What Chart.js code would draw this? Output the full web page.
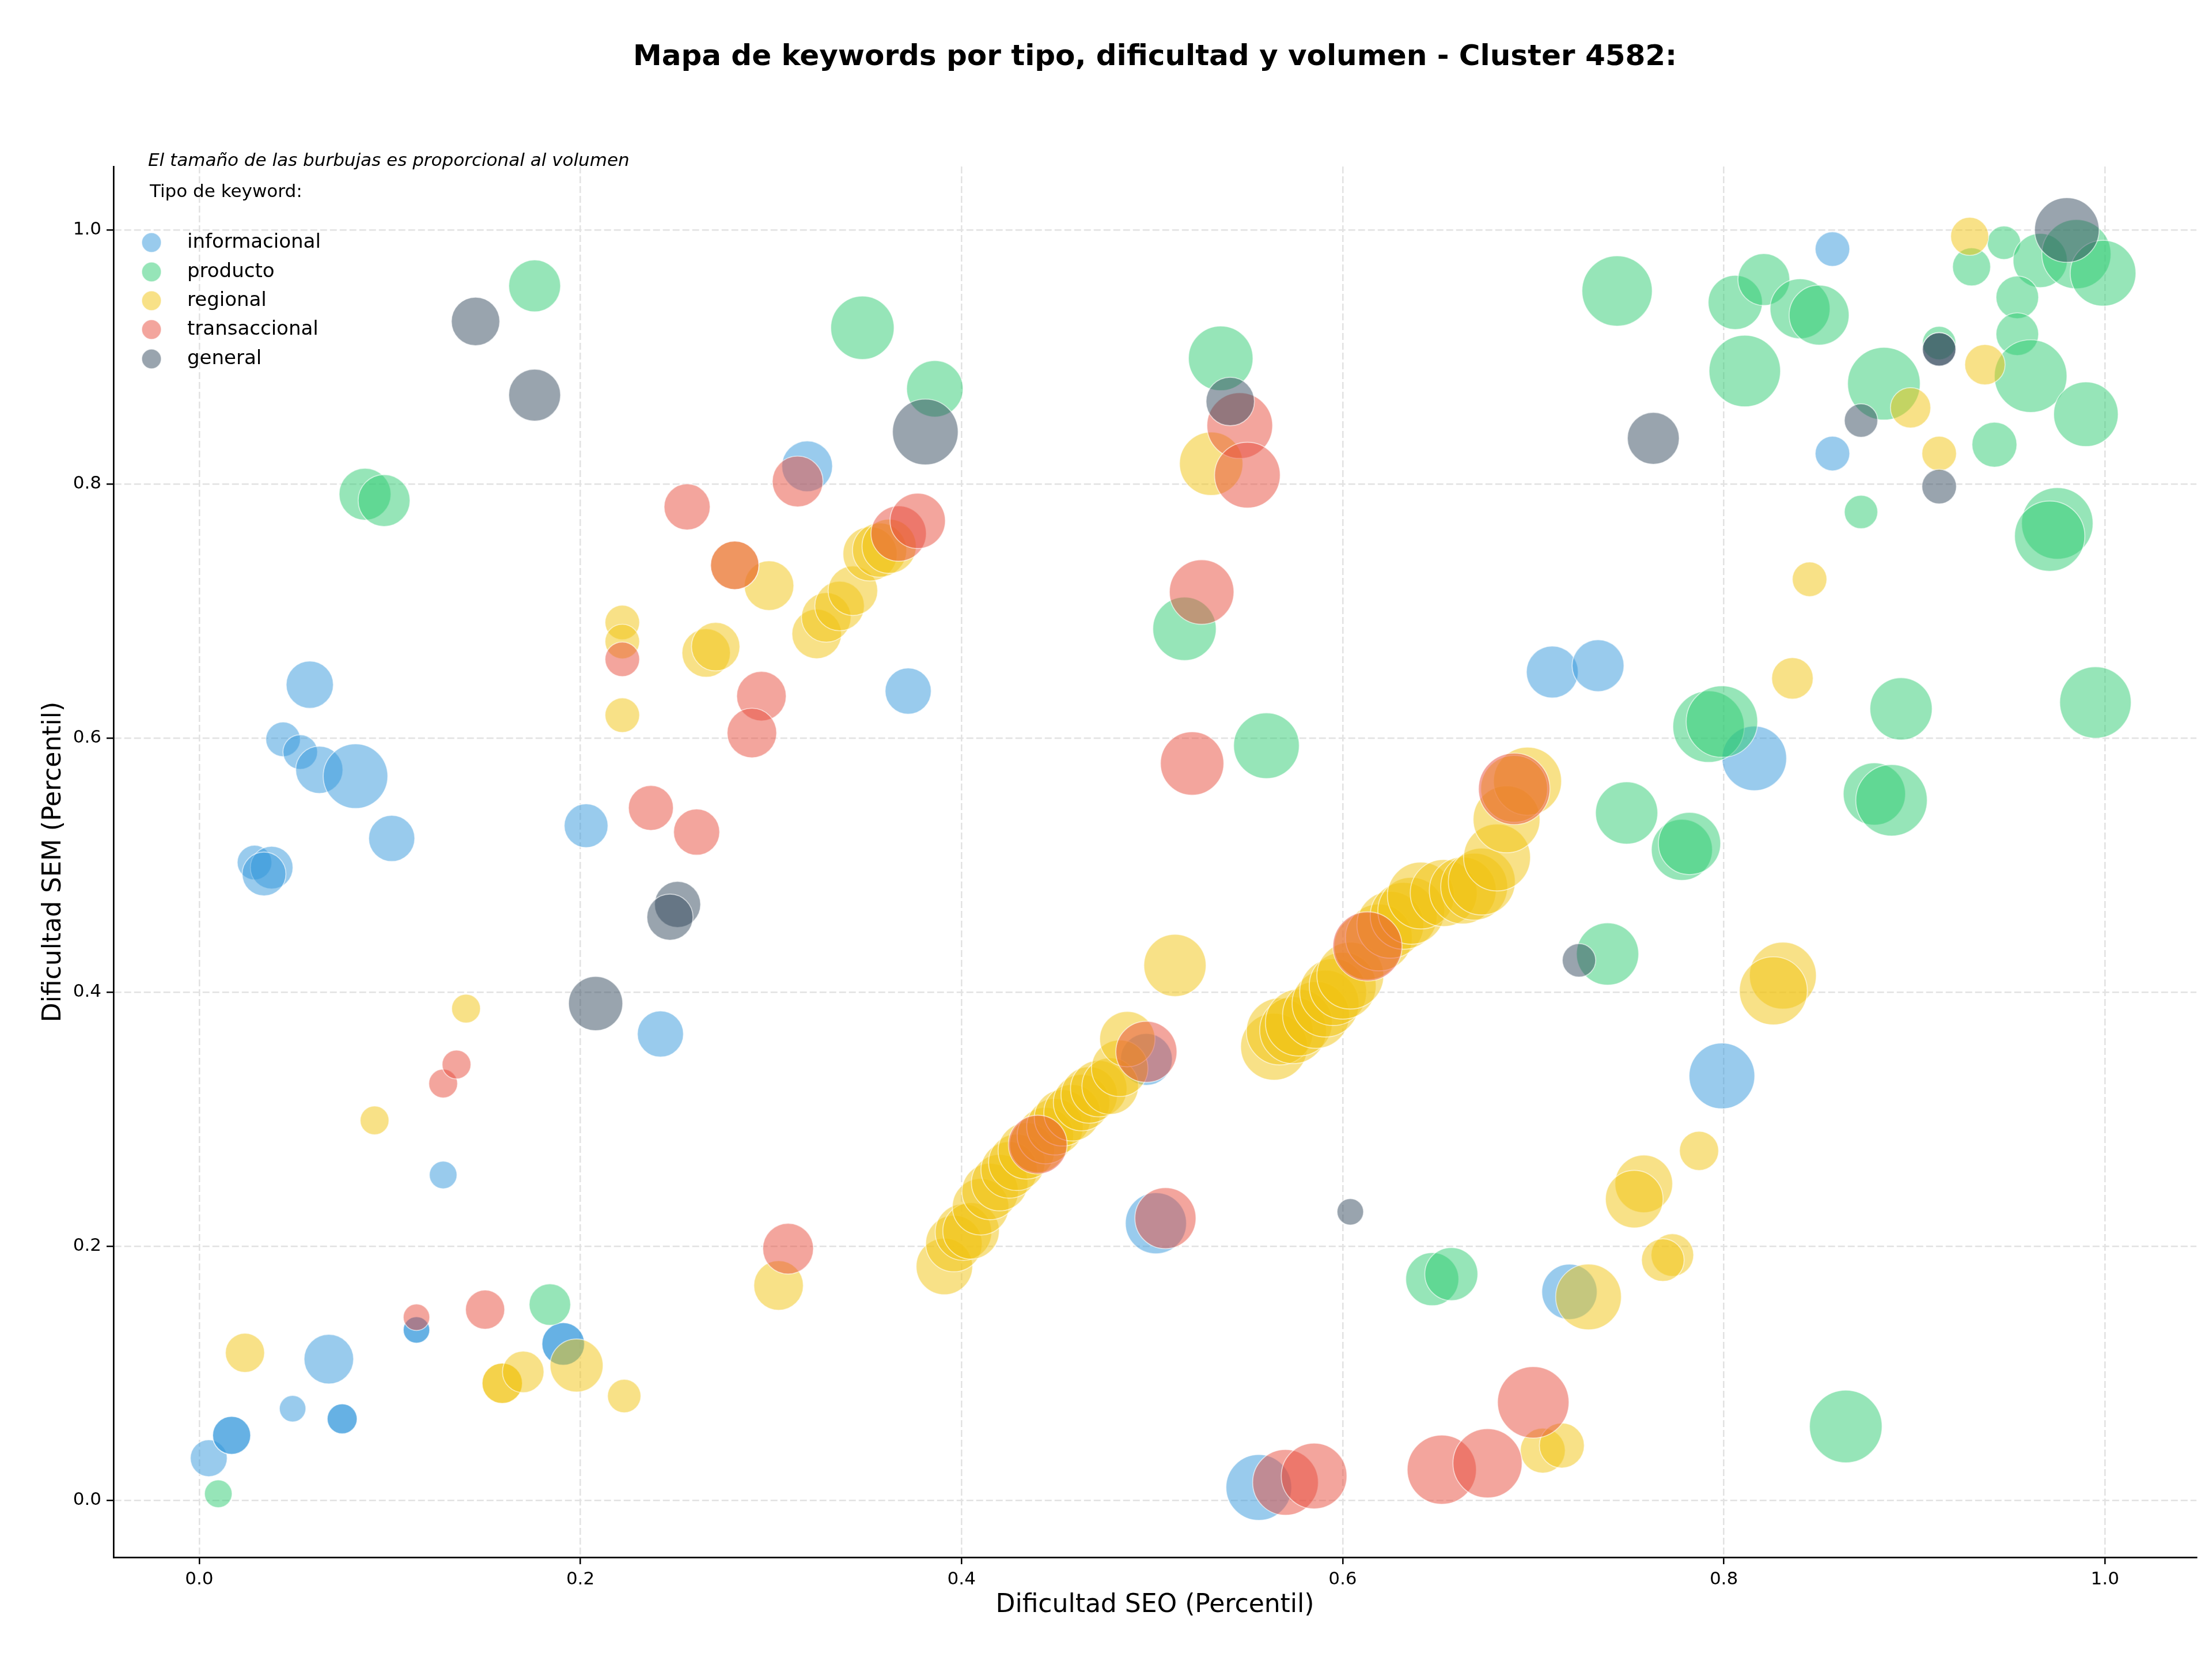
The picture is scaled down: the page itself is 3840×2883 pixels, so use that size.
<!DOCTYPE html>
<html>
<head>
<meta charset="utf-8">
<title>Mapa de keywords - Cluster 4582</title>
<script src="https://cdn.jsdelivr.net/npm/chart.js@4.4.0/dist/chart.umd.min.js"></script>
<style>
  html, body { margin: 0; padding: 0; background: #ffffff; }
  #wrap { width: 3840px; height: 2883px; }
</style>
</head>
<body>
<div id="wrap"><canvas id="bubbleChart" width="3840" height="2883"></canvas></div>
<script>
// ===== DATA (dificultad SEO, dificultad SEM, volumen) =====
const tipos = ['informacional', 'producto', 'regional', 'transaccional', 'general'];

const infoSeo = [0.857, 0.857, 0.319, 0.058, 0.044, 0.053, 0.063, 0.082, 0.101, 0.029, 0.038, 0.034, 0.372, 0.203, 0.242, 0.710, 0.734, 0.816, 0.799, 0.128, 0.502, 0.719, 0.556, 0.068, 0.005, 0.017, 0.017, 0.049, 0.075, 0.075, 0.114, 0.114, 0.191, 0.191, 0.497];
const infoSem = [0.985, 0.824, 0.814, 0.642, 0.599, 0.589, 0.575, 0.570, 0.521, 0.502, 0.498, 0.493, 0.637, 0.531, 0.367, 0.652, 0.657, 0.584, 0.334, 0.256, 0.218, 0.164, 0.010, 0.111, 0.033, 0.051, 0.051, 0.072, 0.064, 0.064, 0.134, 0.134, 0.123, 0.123, 0.347];
const infoVol = [225, 225, 484, 420, 225, 225, 420, 784, 400, 225, 342, 361, 400, 361, 400, 506, 506, 784, 812, 144, 702, 576, 812, 462, 256, 272, 272, 132, 169, 169, 132, 132, 342, 342, 506];

const prodSeo = [0.176, 0.087, 0.097, 0.348, 0.386, 0.536, 0.517, 0.560, 0.744, 0.806, 0.821, 0.840, 0.850, 0.811, 0.884, 0.913, 0.930, 0.947, 0.966, 0.985, 0.999, 0.954, 0.954, 0.961, 0.990, 0.942, 0.872, 0.975, 0.971, 0.792, 0.799, 0.893, 0.995, 0.879, 0.888, 0.749, 0.778, 0.782, 0.739, 0.647, 0.657, 0.184, 0.864, 0.010];
const prodSem = [0.956, 0.792, 0.787, 0.923, 0.875, 0.899, 0.686, 0.594, 0.952, 0.943, 0.961, 0.938, 0.933, 0.889, 0.879, 0.911, 0.971, 0.990, 0.976, 0.981, 0.966, 0.947, 0.918, 0.885, 0.855, 0.831, 0.778, 0.769, 0.759, 0.609, 0.613, 0.623, 0.628, 0.556, 0.551, 0.541, 0.512, 0.517, 0.430, 0.174, 0.178, 0.154, 0.058, 0.005];
const prodVol = [506, 506, 506, 756, 600, 784, 756, 812, 930, 552, 506, 676, 676, 961, 992, 210, 272, 210, 552, 900, 812, 342, 342, 992, 784, 380, 210, 961, 930, 961, 961, 729, 961, 729, 961, 729, 702, 729, 729, 529, 529, 324, 992, 144];

const regSeo = [0.024, 0.092, 0.140, 0.159, 0.159, 0.170, 0.198, 0.223, 0.304, 0.222, 0.222, 0.222, 0.266, 0.271, 0.299, 0.281, 0.324, 0.329, 0.336, 0.343, 0.352, 0.357, 0.362, 0.531, 0.512,
  0.391, 0.396, 0.401, 0.405, 0.410, 0.415, 0.420, 0.425, 0.429, 0.434, 0.440, 0.444, 0.449, 0.453, 0.458, 0.463, 0.467, 0.472, 0.478, 0.483, 0.487,
  0.564, 0.567, 0.574, 0.577, 0.586, 0.591, 0.595, 0.600, 0.604, 0.613, 0.619, 0.625, 0.632, 0.636, 0.641, 0.653, 0.663, 0.669, 0.673, 0.681, 0.686, 0.697, 0.690,
  0.836, 0.831, 0.826, 0.787, 0.758, 0.753, 0.773, 0.768, 0.729, 0.705, 0.715, 0.929, 0.937, 0.898, 0.913, 0.845];
const regSem = [0.116, 0.299, 0.387, 0.092, 0.092, 0.101, 0.106, 0.082, 0.169, 0.691, 0.676, 0.618, 0.667, 0.672, 0.720, 0.736, 0.682, 0.695, 0.704, 0.716, 0.745, 0.748, 0.751, 0.816, 0.421,
  0.184, 0.202, 0.211, 0.212, 0.231, 0.243, 0.250, 0.260, 0.266, 0.275, 0.280, 0.287, 0.294, 0.301, 0.305, 0.313, 0.319, 0.324, 0.326, 0.340, 0.363,
  0.357, 0.369, 0.370, 0.376, 0.382, 0.391, 0.400, 0.405, 0.413, 0.436, 0.443, 0.453, 0.460, 0.464, 0.476, 0.478, 0.480, 0.483, 0.487, 0.506, 0.536, 0.566, 0.560,
  0.647, 0.413, 0.401, 0.275, 0.249, 0.237, 0.193, 0.189, 0.160, 0.039, 0.043, 0.995, 0.894, 0.860, 0.824, 0.725];
const regVol = [289, 156, 156, 306, 306, 324, 529, 210, 462, 225, 225, 225, 441, 441, 462, 441, 462, 462, 462, 462, 552, 552, 552, 756, 729,
  600, 600, 600, 600, 600, 600, 600, 600, 600, 600, 600, 600, 600, 600, 600, 600, 600, 600, 600, 600, 576,
  841, 841, 841, 841, 841, 841, 841, 841, 841, 841, 841, 841, 841, 841, 841, 841, 841, 841, 841, 841, 841, 870, 841,
  324, 841, 870, 289, 625, 625, 342, 342, 812, 380, 380, 272, 306, 306, 225, 225];

const tranSeo = [0.128, 0.135, 0.114, 0.150, 0.309, 0.237, 0.261, 0.295, 0.290, 0.222, 0.281, 0.256, 0.314, 0.367, 0.377, 0.546, 0.550, 0.526, 0.521, 0.440, 0.497, 0.507, 0.613, 0.690, 0.570, 0.585, 0.652, 0.676, 0.700];
const tranSem = [0.328, 0.343, 0.144, 0.150, 0.198, 0.545, 0.526, 0.633, 0.604, 0.662, 0.736, 0.782, 0.802, 0.761, 0.771, 0.846, 0.807, 0.715, 0.580, 0.280, 0.353, 0.222, 0.436, 0.560, 0.014, 0.019, 0.024, 0.029, 0.077];
const tranVol = [156, 156, 132, 289, 484, 380, 400, 462, 462, 225, 441, 400, 484, 576, 576, 812, 812, 784, 756, 650, 702, 702, 900, 961, 812, 812, 900, 900, 961];

const genSeo = [0.145, 0.176, 0.381, 0.541, 0.251, 0.247, 0.208, 0.604, 0.724, 0.763, 0.872, 0.913, 0.913, 0.913, 0.980];
const genSem = [0.928, 0.870, 0.841, 0.865, 0.469, 0.459, 0.391, 0.227, 0.425, 0.836, 0.850, 0.906, 0.906, 0.798, 1.000];
const genVol = [441, 506, 812, 441, 400, 400, 552, 132, 210, 506, 210, 210, 210, 225, 784];

const xTicks = [0.0, 0.2, 0.4, 0.6, 0.8, 1.0];
const yTicks = [0.0, 0.2, 0.4, 0.6, 0.8, 1.0];

// ===== STYLE =====
const FONT = '"DejaVu Sans", Verdana, sans-serif';
const BUBBLE_SCALE = 2;   // radius in px = BUBBLE_SCALE * sqrt(volumen)
const colors = {
    informacional: 'rgba(52, 152, 219, 0.5)',
    producto: 'rgba(46, 204, 113, 0.5)',
    regional: 'rgba(241, 196, 15, 0.5)',
    transaccional: 'rgba(231, 76, 60, 0.5)',
    general: 'rgba(52, 73, 94, 0.5)'
};

function toPoints(seo, sem, vol) {
    return seo.map((x, i) => ({ x: x, y: sem[i], r: BUBBLE_SCALE * Math.sqrt(vol[i]) }));
}

const seriesData = [
    toPoints(infoSeo, infoSem, infoVol),
    toPoints(prodSeo, prodSem, prodVol),
    toPoints(regSeo, regSem, regVol),
    toPoints(tranSeo, tranSem, tranVol),
    toPoints(genSeo, genSem, genVol)
];

const datasets = tipos.map((tipo, i) => ({
    label: tipo,
    data: seriesData[i],
    backgroundColor: colors[tipo],
    borderColor: 'rgba(255, 255, 255, 0.6)',
    borderWidth: 1.7,
    hoverRadius: 0,
    order: tipos.length - i   // later types drawn on top, like matplotlib
}));

// ===== TEXT: title, note and legend inside the axes =====
const annotations = {
    id: 'annotations',
    afterDraw(chart) {
        const ctx = chart.ctx;
        const area = chart.chartArea;
        ctx.save();
        ctx.fillStyle = '#000';
        ctx.textBaseline = 'middle';

        ctx.font = 'bold 50px ' + FONT;
        ctx.textAlign = 'center';
        ctx.fillText('Mapa de keywords por tipo, dificultad y volumen - Cluster 4582:', (area.left + area.right) / 2, 100);

        ctx.textAlign = 'left';
        ctx.font = 'italic 31px ' + FONT;
        ctx.fillText('El tamaño de las burbujas es proporcional al volumen', 257, 280);
        ctx.font = '31px ' + FONT;
        ctx.fillText('Tipo de keyword:', 260, 334);

        const rowY = [421, 472, 522, 572, 623];
        chart.data.datasets.forEach((ds, i) => {
            ctx.beginPath();
            ctx.arc(263, rowY[i], 17, 0, Math.PI * 2);
            ctx.fillStyle = ds.backgroundColor;
            ctx.fill();
            ctx.lineWidth = 1.7;
            ctx.strokeStyle = 'rgba(255, 255, 255, 0.6)';
            ctx.stroke();
            ctx.fillStyle = '#000';
            ctx.font = '34px ' + FONT;
            ctx.fillText(ds.label, 325, rowY[i]);
        });
        ctx.restore();
    }
};

// ===== CHART =====
const ctx = document.getElementById('bubbleChart');
new Chart(ctx.getContext('2d'), {
    type: 'bubble',
    data: { datasets: datasets },
    plugins: [annotations],
    options: {
        responsive: false,
        animation: false,
        devicePixelRatio: 1,
        layout: {
            autoPadding: false,
            padding: { top: 289, right: 27, left: 0, bottom: 0 }
        },
        plugins: {
            legend: { display: false },
            tooltip: { enabled: false },
            title: { display: false }
        },
        scales: {
            x: {
                type: 'linear',
                min: -0.045,
                max: 1.048,
                afterFit: (scale) => {
                    scale.height = 180;
                    scale.paddingLeft = 0;
                    scale.paddingRight = 0;
                },
                afterBuildTicks: (scale) => { scale.ticks = xTicks.map(v => ({ value: v })); },
                ticks: {
                    color: '#000',
                    padding: 8,
                    font: { family: FONT, size: 31 },
                    callback: (v) => Number(v).toFixed(1)
                },
                grid: {
                    color: '#e2e2e2',
                    lineWidth: 2.5,
                    drawTicks: true,
                    tickLength: 12,
                    tickColor: '#000',
                    tickWidth: 2.5
                },
                border: { display: true, color: '#000', width: 2.7, dash: [12, 5] },
                title: {
                    display: true,
                    text: 'Dificultad SEO (Percentil)',
                    color: '#000',
                    font: { family: FONT, size: 44 },
                    padding: { top: 0, bottom: 70 }
                }
            },
            y: {
                type: 'linear',
                min: -0.045,
                max: 1.05,
                afterFit: (scale) => {
                    scale.width = 197;
                    scale.paddingTop = 0;
                    scale.paddingBottom = 0;
                },
                afterBuildTicks: (scale) => { scale.ticks = yTicks.map(v => ({ value: v })); },
                ticks: {
                    color: '#000',
                    padding: 9,
                    font: { family: FONT, size: 31 },
                    callback: (v) => Number(v).toFixed(1)
                },
                grid: {
                    color: '#e2e2e2',
                    lineWidth: 2.5,
                    drawTicks: true,
                    tickLength: 12,
                    tickColor: '#000',
                    tickWidth: 2.5
                },
                border: { display: true, color: '#000', width: 2.7, dash: [12, 5] },
                title: {
                    display: true,
                    text: 'Dificultad SEM (Percentil)',
                    color: '#000',
                    font: { family: FONT, size: 44 },
                    padding: { top: 67, bottom: 0 }
                }
            }
        }
    }
});
</script>
</body>
</html>
